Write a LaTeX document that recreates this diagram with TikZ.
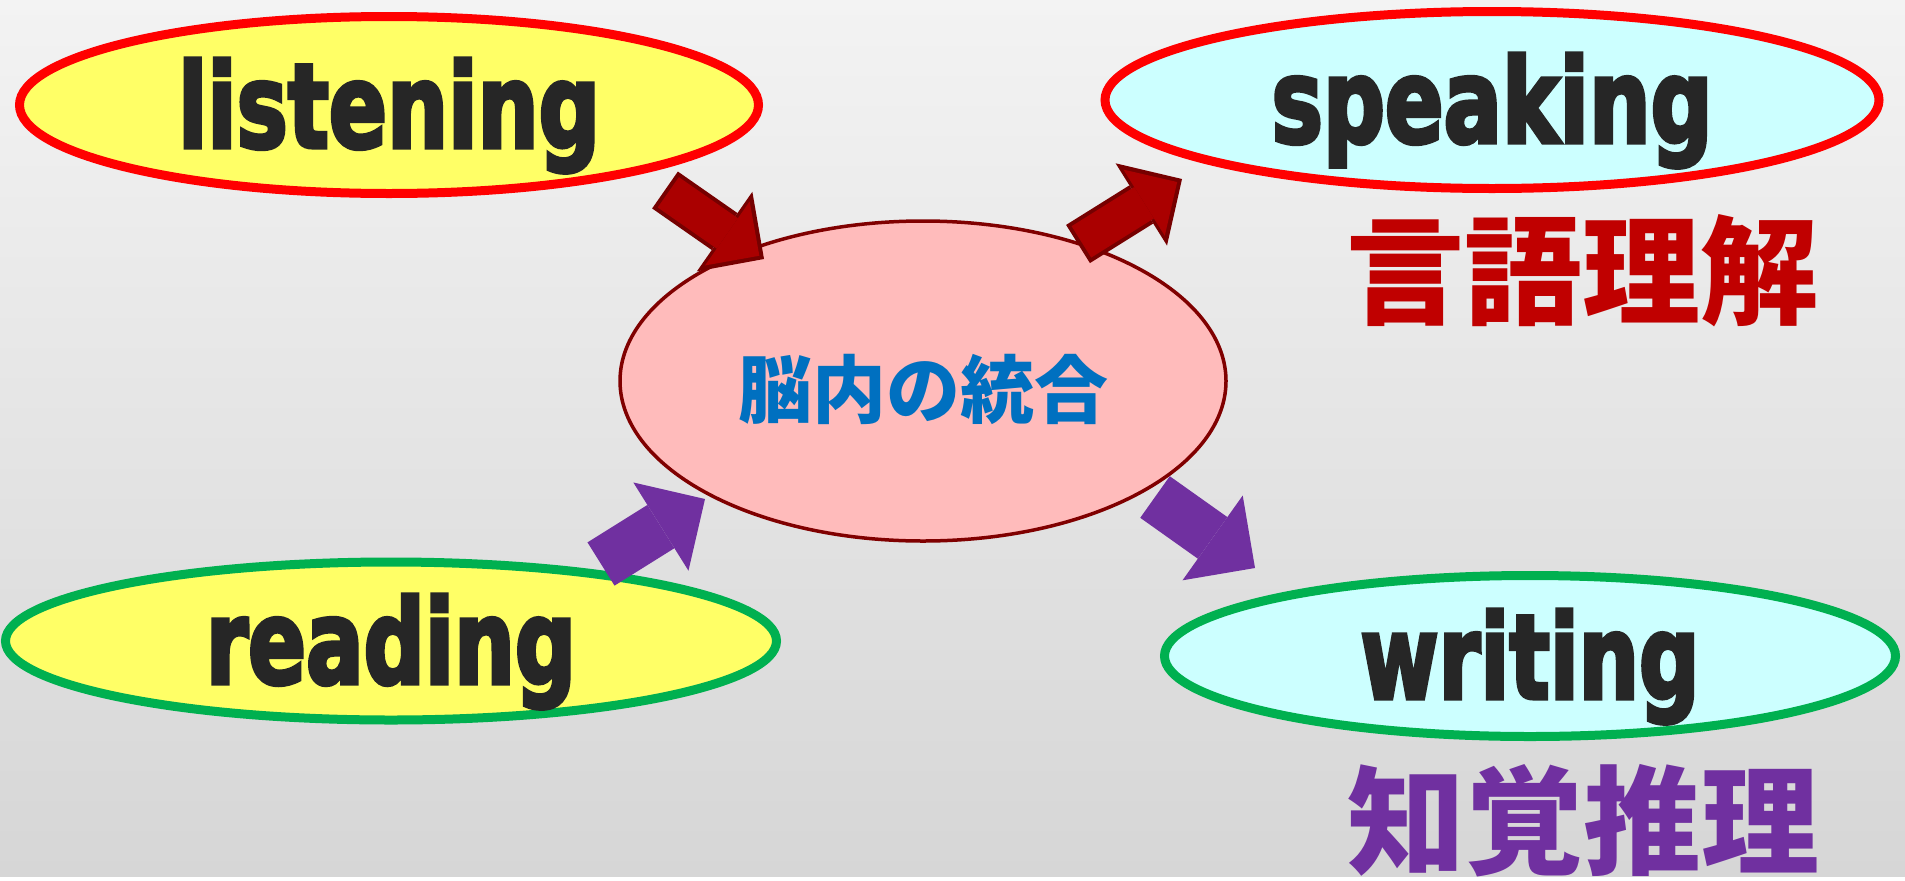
\documentclass[tikz,border=0pt]{standalone}
\usepackage{fontspec}
\usepackage{graphicx}
\usetikzlibrary{shapes.geometric,arrows.meta}
\newfontfamily\wordfont{DejaVu Sans Condensed}[UprightFont=* Bold, FakeBold=3.5]
\newfontfamily\jpfont{Noto Sans CJK JP}[UprightFont=* Black]
\definecolor{bgtop}{HTML}{F3F3F3}
\definecolor{bgbot}{HTML}{D6D6D6}
\definecolor{inyellow}{HTML}{FFFF66}
\definecolor{outcyan}{HTML}{CCFFFF}
\definecolor{ringred}{HTML}{FF0000}
\definecolor{ringgreen}{HTML}{00B050}
\definecolor{brainpink}{HTML}{FFBBBB}
\definecolor{brainrim}{HTML}{800000}
\definecolor{arrred}{HTML}{AA0000}
\definecolor{arrrim}{HTML}{760000}
\definecolor{arrpurple}{HTML}{7030A0}
\definecolor{wordgray}{HTML}{262626}
\definecolor{brainblue}{HTML}{0070C0}
\definecolor{langred}{HTML}{C00000}
\newcommand{\skill}[2]{\resizebox{#1}{89pt}{\wordfont #2}}

\begin{document}
\begin{tikzpicture}[x=1pt,y=-1pt,
	ring/.style={ellipse, inner sep=0pt, line width=9pt, text=wordgray, text depth=4pt},
	bigred/.style={line width=45pt, arrrim, -{Triangle[width=97pt,length=48pt,line width=0pt]}},
	bigredin/.style={line width=37pt, arrred, shorten <=4pt, shorten >=5.7pt, -{Triangle[width=78pt,length=39pt,line width=0pt]}},
	bigpurple/.style={line width=51pt, arrpurple, -{Triangle[width=104pt,length=52pt,line width=0pt]}},
	kanji/.style={font=\jpfont\fontsize{118}{118}\selectfont}]% {{{ 脳内の統合
	\shade[top color=bgtop, bottom color=bgbot] (0,0) rectangle (1905,876);

	\node[ring, draw=ringred, fill=inyellow, minimum width=739pt, minimum height=177pt] (listening) at (389,105) {\skill{422pt}{listening}};
	\node[ring, draw=ringred, fill=outcyan, minimum width=774pt, minimum height=177pt] (speaking) at (1492,100) {\skill{441pt}{speaking}};
	\node[ring, draw=ringgreen, fill=inyellow, minimum width=771pt, minimum height=158pt] (reading) at (391,641) {\skill{370pt}{reading}};
	\node[ring, draw=ringgreen, fill=outcyan, minimum width=731pt, minimum height=161pt] (writing) at (1530,656) {\skill{339pt}{writing}};

	\node[ellipse, draw=brainrim, line width=3.5pt, fill=brainpink, minimum width=606pt, minimum height=320pt] (brain) at (923,381) {};
	\node[font=\jpfont\fontsize{74}{74}\selectfont, text=brainblue] (brain-label) at (923,389) {脳内の統合};

	\node[kanji, text=langred] (lang) at (1582,271) {言語理解};
	\node[kanji, text=arrpurple] (percep) at (1583,821) {知覚推理};

	% block arrows
	\coordinate (lis-a) at (665,190); \coordinate (lis-b) at (764,259);
	\coordinate (spk-a) at (1078,244); \coordinate (spk-b) at (1182,179);
	\coordinate (rd-a) at (601,564); \coordinate (rd-b) at (705,499);
	\coordinate (wr-a) at (1155,497); \coordinate (wr-b) at (1255,568);
	\draw[bigred] (lis-a) -- (lis-b);
	\draw[bigredin] (lis-a) -- (lis-b);
	\draw[bigred] (spk-a) -- (spk-b);
	\draw[bigredin] (spk-a) -- (spk-b);
	\draw[bigpurple] (rd-a) -- (rd-b);
	\draw[bigpurple] (wr-a) -- (wr-b);
\end{tikzpicture}
\end{document}
